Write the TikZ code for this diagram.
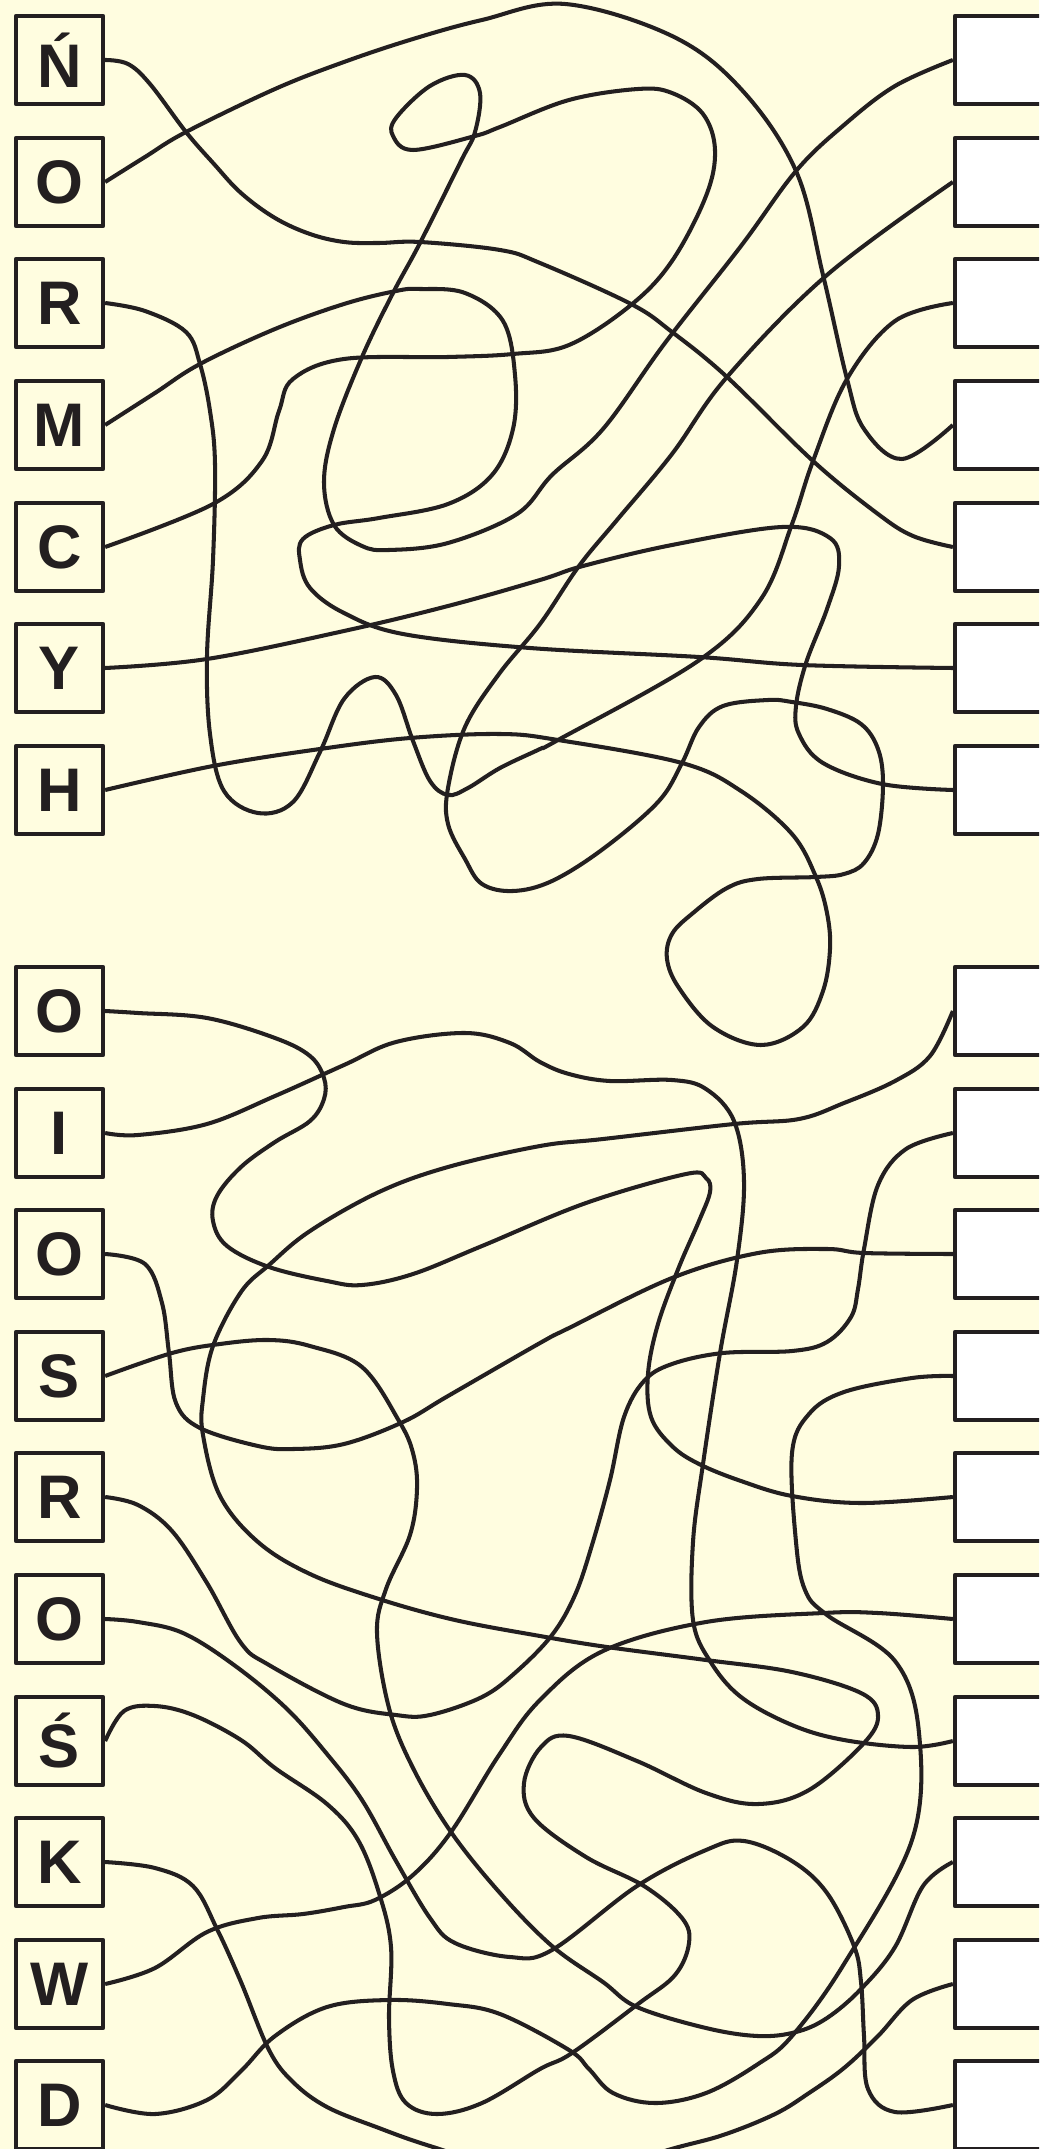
\documentclass[tikz,border=0pt]{standalone}
\usepackage{fontspec}
\setmainfont{Liberation Sans}
\definecolor{paper}{HTML}{FFFDE0}
\definecolor{ink}{HTML}{231F20}

\begin{document}
\begin{tikzpicture}[x=0.01cm, y=-0.01cm, line join=round,
                    letter node/.style={rectangle,draw=ink,fill=paper,line width=1.2pt,
                      minimum width=0.87cm,minimum height=0.88cm,inner sep=0pt,
                      text=ink,font=\fontsize{17.5}{20}\selectfont\bfseries},
                    blank node/.style={letter node,fill=white},
                    wire/.style={draw=ink,line width=1.15pt,smooth,tension=0.6}]
  \useasboundingbox (0,0) rectangle (1039,2149);
  \fill[paper] (0,0) rectangle (1039,2149);
  \clip (0,0) rectangle (1039,2149);

  \node[letter node] (l1) at (59.5,60) {Ń};
  \node[letter node] (l2) at (59.5,182) {O};
  \node[letter node] (l3) at (59.5,303) {R};
  \node[letter node] (l4) at (59.5,425) {M};
  \node[letter node] (l5) at (59.5,547) {C};
  \node[letter node] (l6) at (59.5,668) {Y};
  \node[letter node] (l7) at (59.5,790) {H};
  \node[letter node] (l8) at (59.5,1011) {O};
  \node[letter node] (l9) at (59.5,1133) {I};
  \node[letter node] (l10) at (59.5,1254) {O};
  \node[letter node] (l11) at (59.5,1376) {S};
  \node[letter node] (l12) at (59.5,1497) {R};
  \node[letter node] (l13) at (59.5,1619) {O};
  \node[letter node] (l14) at (59.5,1741) {Ś};
  \node[letter node] (l15) at (59.5,1862) {K};
  \node[letter node] (l16) at (59.5,1984) {W};
  \node[letter node] (l17) at (59.5,2105) {D};

  \node[blank node] (r1) at (998.5,60) {};
  \node[blank node] (r2) at (998.5,182) {};
  \node[blank node] (r3) at (998.5,303) {};
  \node[blank node] (r4) at (998.5,425) {};
  \node[blank node] (r5) at (998.5,547) {};
  \node[blank node] (r6) at (998.5,668) {};
  \node[blank node] (r7) at (998.5,790) {};
  \node[blank node] (r8) at (998.5,1011) {};
  \node[blank node] (r9) at (998.5,1133) {};
  \node[blank node] (r10) at (998.5,1254) {};
  \node[blank node] (r11) at (998.5,1376) {};
  \node[blank node] (r12) at (998.5,1497) {};
  \node[blank node] (r13) at (998.5,1619) {};
  \node[blank node] (r14) at (998.5,1741) {};
  \node[blank node] (r15) at (998.5,1862) {};
  \node[blank node] (r16) at (998.5,1984) {};
  \node[blank node] (r17) at (998.5,2105) {};

  \draw[wire] plot coordinates {(l1.east) (128,64) (150,84) (186,132) (214,164) (241,193)
    (275,218) (310,234) (344,242) (379,243) (420,242) (500,250) (540,263) (631,304)
    (672,332) (727,377) (813,461) (878,514) (913,536) (r5.west)};
  \draw[wire] plot coordinates {(l2.east) (145,157) (186,132) (275,89) (344,62) (413,39)
    (482,20) (565,4) (672,36) (741,89) (796,171) (823,275) (847,379) (864,429) (902,459)
    (r4.west)};
  \draw[wire] plot coordinates {(l3.east) (145,311) (186,332) (200,364) (210,411) (215,464)
    (213,560) (207,656) (210,734) (224,791) (258,813) (293,802) (320,752) (344,699)
    (375,677) (396,695) (413,741) (430,781) (448,795) (468,788) (500,768) (540,749)
    (558,740) (698,661) (761,599) (792,524) (813,461) (847,379) (895,321) (r3.west)};
  \draw[wire] plot coordinates {(l4.east) (155,393) (200,364) (275,329) (344,304) (396,291)
    (420,289) (465,293) (503,321) (515,375) (513,429) (492,475) (448,504) (379,518)
    (334,525) (303,539) (300,560) (310,588) (344,613) (403,634) (530,648) (699,657)
    (802,665) (r6.west)};
  \draw[wire] plot coordinates {(l5.east) (213,504) (262,461) (279,411) (293,379) (344,359)
    (448,357) (513,354) (569,345) (631,305) (672,261) (706,196) (715,150) (703,114)
    (672,93) (638,89) (569,100) (500,127) (475,136) (413,150) (393,136) (396,118)
    (430,86) (465,75) (480,93) (475,132) (461,161) (420,243) (393,293) (362,357)
    (334,429) (324,482) (334,525) (362,546) (389,550) (448,543) (517,514) (552,475)
    (603,429) (665,343) (741,246) (796,171) (844,125) (895,86) (r1.west)};
  \draw[wire] plot coordinates {(l6.east) (207,659) (344,631) (448,606) (540,580) (583,566)
    (672,545) (782,527) (830,538) (839,566) (827,609) (806,663) (796,706) (799,734)
    (823,763) (882,784) (r7.west)};
  \draw[wire] plot coordinates {(l7.east) (213,766) (320,749) (410,738) (500,734) (558,740)
    (682,763) (741,791) (792,834) (816,877) (827,913) (830,949) (823,991) (803,1027)
    (761,1045) (713,1027) (679,988) (667,959) (672,934) (693,913) (727,888) (758,879)
    (816,877) (844,874) (864,863) (878,834) (883,784) (878,749) (861,724) (827,709)
    (792,702) (768,700) (723,706) (699,727) (682,763) (658,802) (603,849) (552,881)
    (513,891) (482,884) (465,859) (448,824) (448,788) (465,727) (499,674) (540,624)
    (579,566) (617,520) (672,454) (727,377) (827,275) (r2.west)};

  \draw[wire] plot coordinates {(l8.east) (138,1013) (207,1018) (275,1038) (310,1056)
    (324,1078) (324,1099) (310,1121) (275,1142) (241,1167) (217,1196) (213,1221)
    (227,1246) (269,1267) (327,1281) (362,1285) (413,1274) (482,1246) (586,1203)
    (686,1174) (706,1178) (710,1192) (699,1221) (679,1267) (658,1324) (648,1374)
    (651,1417) (672,1446) (699,1464) (741,1481) (792,1496) (861,1503) (r12.west)};
  \draw[wire] plot coordinates {(l9.east) (138,1135) (207,1124) (275,1096) (344,1065)
    (396,1042) (465,1033) (510,1043) (540,1062) (569,1074) (610,1081) (672,1080)
    (706,1089) (734,1121) (744,1181) (737,1260) (720,1353) (703,1464) (693,1542)
    (693,1620) (710,1661) (741,1697) (792,1725) (844,1740) (912,1747) (r14.west)};
  \draw[wire] plot coordinates {(l10.east) (145,1264) (162,1303) (169,1353) (176,1403)
    (200,1428) (258,1446) (293,1449) (344,1444) (403,1422) (448,1396) (540,1343)
    (569,1328) (672,1278) (758,1253) (827,1249) (864,1253) (r10.west)};
  \draw[wire] plot coordinates {(l11.east) (172,1353) (220,1344) (269,1340) (310,1346)
    (362,1367) (399,1421) (413,1453) (417,1489) (410,1535) (386,1589) (377,1633)
    (389,1708) (413,1768) (451,1832) (500,1893) (552,1946) (603,1982) (637,2007)
    (706,2028) (758,2036) (796,2032) (827,2018) (861,1989) (895,1947) (923,1886)
    (r15.west)};
  \draw[wire] plot coordinates {(l12.east) (138,1505) (172,1531) (207,1583) (241,1643)
    (269,1665) (344,1704) (396,1715) (430,1715) (482,1697) (516,1672) (552,1635)
    (575,1595) (592,1545) (610,1480) (624,1417) (644,1381) (672,1364) (723,1353)
    (792,1351) (827,1342) (851,1317) (858,1289) (864,1249) (878,1185) (906,1149)
    (r9.west)};
  \draw[wire] plot coordinates {(l13.east) (138,1622) (183,1633) (234,1665) (286,1708)
    (327,1754) (362,1800) (396,1861) (430,1918) (455,1943) (510,1957) (552,1950)
    (637,1886) (706,1850) (744,1841) (792,1861) (827,1893) (854,1946) (861,1982)
    (864,2036) (868,2089) (895,2112) (r17.west)};
  \draw[wire] plot coordinates {(l14.east) (124,1711) (155,1706) (193,1715) (241,1740)
    (275,1768) (327,1804) (358,1840) (379,1893) (391,1947) (389,2018) (393,2071)
    (406,2103) (437,2114) (482,2103) (540,2069) (572,2053) (638,2004) (675,1975)
    (689,1943) (682,1918) (644,1886) (586,1857) (534,1818) (524,1783) (541,1747)
    (569,1736) (637,1761) (706,1793) (758,1804) (809,1790) (864,1743) (878,1715)
    (861,1693) (792,1672) (706,1660) (607,1647) (540,1636) (455,1620) (379,1599)
    (310,1574) (258,1542) (220,1496) (203,1435) (203,1399) (213,1346) (241,1292)
    (269,1265) (310,1231) (379,1192) (448,1167) (540,1146) (603,1139) (734,1124)
    (799,1119) (844,1103) (895,1081) (930,1056) (r8.west)};
  \draw[wire] plot coordinates {(l15.east) (155,1868) (193,1886) (217,1929) (241,1982)
    (269,2050) (293,2082) (327,2107) (379,2128) (430,2146) (520,2172) (600,2172)
    (668,2150) (723,2135) (775,2114) (809,2093) (844,2068) (878,2036) (912,2000)
    (r16.west)};
  \draw[wire] plot coordinates {(l16.east) (155,1968) (207,1932) (258,1918) (303,1914)
    (344,1907) (375,1900) (413,1875) (451,1832) (499,1755) (540,1700) (603,1651)
    (706,1622) (823,1613) (878,1613) (r13.west)};
  \draw[wire] plot coordinates {(l17.east) (155,2114) (207,2100) (241,2071) (275,2036)
    (327,2007) (389,2000) (448,2004) (500,2014) (569,2050) (589,2069) (613,2093)
    (655,2103) (706,2093) (758,2064) (792,2036) (844,1964) (912,1840) (919,1733)
    (895,1661) (827,1615) (805,1590) (796,1542) (792,1453) (809,1414) (844,1392)
    (912,1378) (r11.west)};
\end{tikzpicture}
\end{document}
